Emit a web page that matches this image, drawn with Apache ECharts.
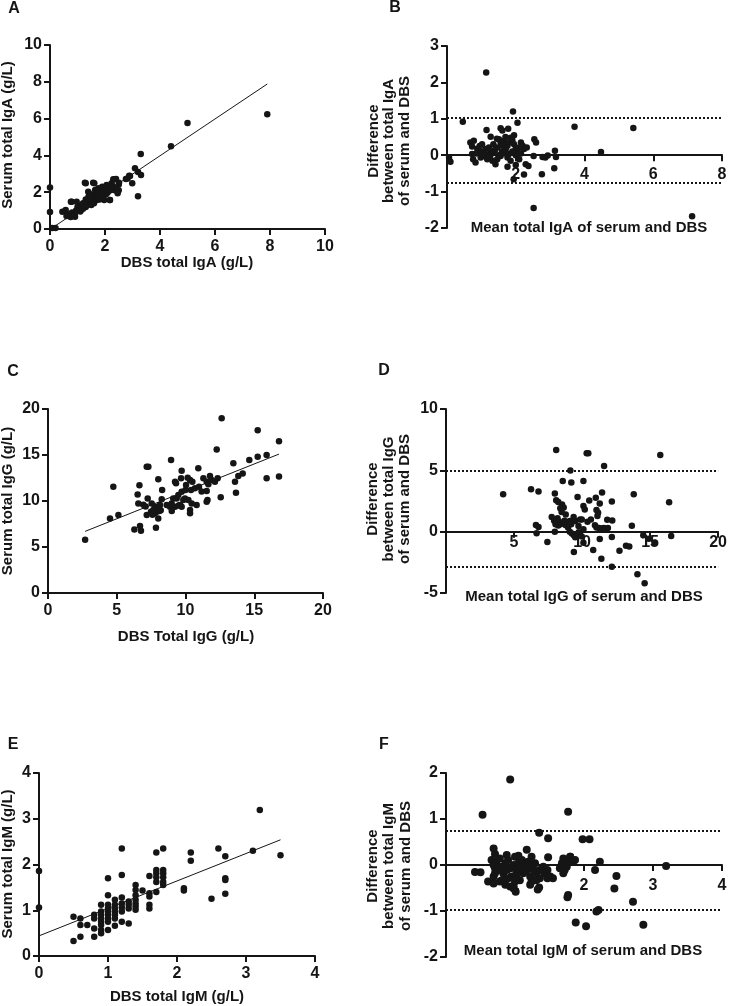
<!DOCTYPE html>
<html>
<head>
<meta charset="utf-8">
<script src="https://cdn.jsdelivr.net/npm/echarts@6/dist/echarts.min.js"></script>
<style>html,body{margin:0;padding:0;background:#fff}#c{width:730px;height:1006px}</style>
</head>
<body>
<div id="c"></div>
<script>
// ---------- DATA ----------
// A: DBS total IgA vs Serum total IgA (g/L)
const igaScatter = [
[0,2.25],[0,0.92],[0.08,0.05],[0.2,0.05],[7.9,6.23],[5.0,5.76],[4.4,4.5],[3.3,4.08],[3.2,1.78],[3.09,3.3],[3.2,3.1],[3.31,2.93],
[2.76,2.72],[2.88,2.9],[2.99,2.48],[2.3,2.7],[2.4,2.72],[2.5,2.42],[2.5,2.1],[2.36,2.1],[2.18,1.58],[1.27,2.52],[1.57,2.52],[0.76,1.48],
[0.45,0.94],[0.57,1.03],[0.67,0.76],[0.76,0.7],[0.85,0.81],[0.91,0.67],[0.79,1.48],[0.97,1.48],[1.03,1.12],[1.13,1.03],[1.15,1.3],
[1.25,1.21],[1.33,1.39],[1.3,2.48],[1.39,2.02],[1.45,1.66],[1.51,1.48],[1.58,1.85],[1.61,2.48],[1.64,2.12],[1.7,1.57],[1.73,1.94],
[1.76,2.21],[1.82,1.75],[1.85,2.03],[1.9,2.3],[1.94,1.94],[1.97,1.57],[2.02,2.21],[2.06,2.39],[2.12,2.12],[2.18,1.57],[2.24,2.48],
[2.3,2.3],[2.36,2.7],[2.42,2.12],[2.46,1.94],[2.51,2.52],[2.82,2.75],[2.91,2.88],
[1.05,1.0],[1.1,0.95],[1.15,1.2],[1.2,1.1],[1.25,1.35],[1.3,1.2],[1.35,1.3],[1.4,1.5],[1.45,1.4],[1.5,1.6],[1.5,1.3],[1.55,1.5],
[1.6,1.7],[1.6,1.4],[1.65,1.6],[1.7,1.75],[1.75,1.8],[1.8,1.6],[1.8,1.9],[1.85,1.75],[1.9,2.0],[1.95,1.8],[2.0,2.05],[2.05,1.9],
[2.1,2.0],[2.2,2.1],[2.25,2.3],[0.7,0.8],[0.8,0.9],[0.9,0.8],[0.95,1.0],[1.0,1.2],[0.6,0.7],[0.75,0.65],[0.85,0.7],[1.1,1.15],
[1.3,1.6],[1.4,1.75],[1.45,1.9],[1.2,1.4]
];
const igaFit = [[0,-0.02],[7.9,7.88]];

// B: Bland-Altman IgA (mean, difference)
const igaBA = [
[0.06,-0.07],[0.1,-0.18],[0.46,0.92],[1.14,2.27],[1.92,1.2],[2.05,0.89],[3.71,0.78],[5.42,0.75],[4.48,0.09],[7.13,-1.68],[2.52,-1.45],
[1.15,0.69],[1.27,0.51],[1.56,0.74],[1.61,0.68],[1.78,0.73],[0.68,0.35],[0.78,0.40],[0.73,0.24],[0.88,0.18],[1.02,0.30],[1.12,0.17],
[1.22,0.21],[1.27,0.12],[1.37,0.08],[1.46,0.21],[1.51,0.44],[1.56,0.35],[1.61,0.26],[1.66,0.39],[1.71,0.17],[1.76,0.26],[1.80,0.35],
[1.85,0.48],[1.90,0.41],[1.95,0.30],[2.00,0.17],[2.05,0.08],[2.10,0.21],[2.15,0.35],[2.20,0.26],[2.24,0.17],[2.32,0.21],[2.54,0.44],
[2.59,0.35],[0.73,0.03],[0.76,-0.11],[0.83,-0.20],[0.98,-0.06],[1.07,-0.02],[1.17,-0.11],[1.32,-0.15],[1.41,-0.25],[1.46,-0.11],
[1.56,-0.02],[1.76,-0.06],[1.80,0.03],[1.85,-0.15],[1.76,-0.32],[2.00,-0.27],[2.10,-0.11],[1.94,-0.66],[2.24,-0.53],[2.29,-0.25],
[2.37,-0.30],[2.52,-0.02],[2.76,-0.52],[2.78,-0.05],[2.86,-0.06],[2.93,-0.01],[3.14,0.12],[3.17,-0.05],[3.12,-0.36],
[1.0,0.1],[1.1,0.05],[1.2,0.0],[1.3,0.05],[1.4,0.15],[1.5,0.0],[1.6,0.1],[1.7,0.05],[1.9,0.1],[2.0,0.0],[2.15,0.05],[1.25,-0.05],
[1.35,0.3],[1.45,0.45],[1.7,0.5],[1.95,0.55],[0.95,0.25],[0.85,0.05]
];
const igaLimits = [1.02, -0.76];

// C: DBS total IgG vs Serum total IgG (g/L)
const iggScatter = [
[2.7,5.8],[4.51,8.11],[4.75,11.56],[5.12,8.47],[6.28,6.91],[6.69,7.28],[6.76,6.77],[7.85,7.1],[7.18,8.47],[6.57,9.72],[6.65,11.7],
[7.18,13.73],[7.3,13.73],[7.25,10.27],[8.02,12.36],[8.95,14.46],[12.63,18.99],[15.25,17.7],[16.8,16.5],[12.27,15.6],[15.9,15.0],
[15.25,14.8],[14.64,14.46],[13.48,14.1],[10.93,13.55],[9.72,13.28],[9.24,12.1],[10.16,12.53],[10.33,12.28],[10.5,12.1],[10.98,11.56],
[11.3,12.47],[11.54,12.1],[11.78,12.72],[11.9,12.28],[12.14,12.1],[12.34,12.47],[13.6,12.1],[13.84,12.72],[14.16,12.99],[15.9,12.47],
[16.8,12.65],[13.67,10.9],[12.56,10.4],[11.54,11.08],[11.66,11.81],[10.69,11.38],[10.4,11.2],[10.04,11.74],[9.68,12.47],[9.31,11.92],
[9.72,11.0],[7.54,9.74],[7.78,9.38],[7.66,9.02],[7.9,8.84],[8.02,9.2],[7.78,8.66],[7.49,8.84],[8.02,8.11],[8.14,9.56],[8.27,10.2],
[8.63,9.56],[8.87,9.38],[8.99,9.74],[9.11,10.28],[9.24,9.38],[9.36,10.28],[9.48,10.64],[9.6,9.56],[9.72,9.38],[9.84,10.1],[9.96,10.28],
[10.21,10.1],[10.33,9.02],[10.33,8.66],[10.45,9.74],[10.81,9.56],[11.17,11.02],[11.54,9.92],[6.93,9.6],[6.52,10.7],[7.1,9.4],[8.1,8.9],
[8.2,9.0],[7.6,8.5],[8.3,11.2],[9.0,8.9],[9.5,9.5],[11.6,10.1],[10.0,11.2]
];
const iggFit = [[2.7,6.7],[16.8,15.1]];

// D: Bland-Altman IgG
const iggBA = [
[4.2,3.05],[8.1,6.66],[10.34,6.39],[10.46,6.39],[15.75,6.25],[11.62,5.35],[9.14,4.99],[6.25,3.46],[6.8,3.27],[8.58,4.14],[9.21,4.0],
[10.1,4.14],[11.47,3.2],[13.8,3.06],[16.4,2.4],[8.0,3.12],[8.1,2.56],[8.25,2.42],[8.53,2.22],[8.65,1.96],[9.67,2.82],[10.1,2.1],
[10.53,2.55],[11.01,2.77],[11.3,2.3],[11.06,1.77],[11.18,1.55],[12.19,2.45],[7.77,1.2],[7.95,0.9],[8.1,0.7],[8.2,1.1],[8.3,0.8],
[8.4,0.6],[8.25,0.5],[8.15,1.0],[8.05,0.6],[8.78,0.55],[8.97,0.33],[9.09,0.87],[9.38,1.2],[9.5,0.87],[9.74,0.46],[9.86,1.0],[9.98,1.0],
[10.1,0.2],[10.65,1.0],[10.95,0.52],[11.06,0.33],[11.13,1.28],[11.25,0.3],[11.45,0.25],[11.6,0.3],[11.75,0.2],[11.9,0.3],[11.85,0.97],
[12.22,0.92],[13.66,0.49],[6.61,0.55],[6.8,0.38],[6.66,-0.13],[8.0,0.0],[7.45,-0.84],[9.1,0.0],[9.25,-0.15],[9.4,-0.3],[9.5,-0.45],
[9.75,-0.05],[9.98,-0.4],[10.1,-0.9],[9.4,-1.66],[10.82,-1.5],[11.3,-0.6],[11.42,-2.2],[12.19,-0.43],[12.19,-2.85],[12.75,-1.56],
[13.23,-1.15],[13.47,-1.2],[14.07,-3.48],[14.5,-0.3],[14.6,-4.21],[14.91,-0.57],[15.32,-0.9],[16.55,-0.35],
[8.8,1.4],[8.5,1.6],[8.4,1.9],[9.2,0.6],[10.2,1.8],[10.4,0.8],[8.7,0.9]
];
const iggLimits = [5.0, -2.9];

// E: DBS total IgM vs Serum total IgM (g/L)
const igmScatter = [
[0,1.86],[0,1.06],[0.5,0.86],[0.5,0.33],[0.6,0.82],[0.6,0.68],[0.6,0.42],[0.7,0.68],[0.8,0.9],[0.8,0.82],[0.8,0.6],[0.8,0.42],
[0.9,1.12],[0.9,0.97],[0.9,0.9],[0.9,0.82],[0.9,0.75],[0.9,0.68],[0.9,0.57],[0.9,0.5],
[1.0,1.7],[1.0,1.33],[1.0,1.12],[1.0,1.04],[1.0,0.97],[1.0,0.9],[1.0,0.82],[1.0,0.75],[1.0,0.57],
[1.1,1.23],[1.1,1.12],[1.1,1.04],[1.1,0.97],[1.1,0.9],[1.1,0.82],[1.1,0.66],
[1.2,2.35],[1.2,1.77],[1.2,1.28],[1.2,1.15],[1.2,1.06],[1.2,0.97],[1.2,0.75],
[1.3,1.19],[1.3,1.12],[1.3,1.04],[1.3,0.71],
[1.4,1.55],[1.4,1.44],[1.4,1.33],[1.4,1.23],[1.4,1.15],[1.4,1.08],[1.4,1.01],[1.5,1.43],
[1.6,1.75],[1.6,1.37],[1.6,1.3],[1.6,1.12],[1.6,1.04],
[1.7,2.26],[1.7,1.88],[1.7,1.81],[1.7,1.72],[1.7,1.62],[1.7,1.4],
[1.8,2.35],[1.8,1.88],[1.8,1.81],[1.8,1.72],[1.8,1.62],[1.8,1.55],
[2.1,1.48],[2.1,1.43],[2.2,2.26],[2.2,2.08],[2.5,1.25],[2.6,2.35],[2.7,2.18],[2.7,1.7],[2.7,1.66],[2.7,1.36],[3.1,2.3],[3.2,3.19],[3.5,2.2]
];
const igmFit = [[0,0.44],[3.5,2.54]];

// F: Bland-Altman IgM
const igmBA = [
[0.93,1.86],[0.53,1.09],[1.77,1.16],[1.35,0.70],[1.48,0.58],[1.98,0.56],[2.08,0.56],[0.42,-0.15],[0.5,-0.16],[0.69,0.36],[0.71,0.24],
[0.61,-0.36],[0.69,-0.40],[2.23,0.07],[2.16,-0.11],[2.47,-0.24],[2.44,-0.51],[2.71,-0.80],[2.18,-1.01],[2.21,-0.98],[1.88,-1.25],
[2.03,-1.33],[1.77,-0.65],[1.76,-0.70],[1.35,-0.49],[1.33,-0.53],[1.01,-0.58],[1.48,0.17],[1.17,0.33],[3.19,-0.02],[2.86,-1.3],
[1.05,0.2],[0.88,0.22],[1.24,0.18],[1.8,0.18],[1.7,0.14],
[0.66,0.11],[0.69,0.0],[0.71,-0.07],[0.73,0.07],[0.76,-0.11],[0.78,0.14],[0.81,-0.04],[0.83,-0.18],[0.86,0.04],[0.88,-0.11],
[0.90,0.11],[0.93,-0.07],[0.95,-0.25],[0.98,0.0],[1.0,0.18],[1.02,-0.14],[1.05,0.04],[1.07,-0.07],[1.10,0.11],[1.12,-0.18],
[1.14,0.0],[1.17,-0.11],[1.19,0.07],[1.22,-0.25],[1.24,-0.04],[1.27,-0.11],[1.29,0.04],[1.31,-0.18],[1.36,-0.11],[1.41,-0.04],
[1.43,-0.18],[1.47,-0.11],[1.51,-0.25],[1.55,-0.29],[1.65,-0.07],[1.68,0.04],[1.70,-0.18],[1.72,-0.11],[1.75,-0.04],[1.77,0.11],
[1.80,0.18],[1.84,0.07],[1.87,0.11],[0.69,-0.25],[0.78,-0.36],[0.86,-0.43],[0.93,-0.47],[0.98,-0.51],[1.07,-0.33],[0.81,-0.33],
[0.90,-0.29],[1.22,-0.43],[1.24,-0.36],[1.31,-0.33],[1.36,-0.29],[1.47,-0.29],[0.71,-0.18],[1.0,-0.36],[0.98,-0.47],[1.02,-0.25]
];
const igmLimits = [0.74, -0.98];

// Axis settings (min, max, interval)
const axesSpec = [
  {x:[0,10,2], y:[0,10,2]},
  {x:[0,8,2],  y:[-2,3,1]},
  {x:[0,20,5], y:[0,20,5]},
  {x:[0,20,5], y:[-5,10,5]},
  {x:[0,4,1],  y:[0,4,1]},
  {x:[0,4,1],  y:[-2,2,1]}
];

// ---------- CHART ----------
const FONT = '"Liberation Sans", Arial, sans-serif';
const INK = '#151515';
const grids = [
  {left:50,  top:45,  width:275, height:184},
  {left:447, top:46,  width:275, height:182},
  {left:48,  top:409, width:275, height:184},
  {left:446, top:409, width:277, height:184},
  {left:39,  top:773, width:276, height:183},
  {left:446, top:773, width:276, height:184}
];
const isBA = [false,true,false,true,false,true];
// BA panels carry their tick labels just below the zero line
const xLabelMargin = [10, -61, 10, -58, 10, -79];

const xAxes = axesSpec.map((s,i)=>({
  type:'value', gridIndex:i, min:s.x[0], max:s.x[1], interval:s.x[2],
  axisLine:{show:true, onZero:isBA[i], lineStyle:{color:INK, width:2}},
  axisTick:{show:true, length:6, lineStyle:{color:INK, width:2}},
  axisLabel:{color:INK, fontSize:16, fontWeight:'bold', fontFamily:FONT, margin:xLabelMargin[i], showMinLabel:!isBA[i]},
  splitLine:{show:false}, z:1
}));
const yAxes = axesSpec.map((s,i)=>({
  type:'value', gridIndex:i, min:s.y[0], max:s.y[1], interval:s.y[2],
  axisLine:{show:true, onZero:false, lineStyle:{color:INK, width:2}},
  axisTick:{show:true, length:6, lineStyle:{color:INK, width:2}},
  axisLabel:{color:INK, fontSize:16, fontWeight:'bold', fontFamily:FONT, margin:8},
  splitLine:{show:false}, z:1
}));

function scatter(i, data, size){
  return {type:'scatter', xAxisIndex:i, yAxisIndex:i, data:data, symbolSize:size,
    itemStyle:{color:INK, opacity:1}, z:5, silent:true};
}
function fit(i, data){
  return {type:'line', xAxisIndex:i, yAxisIndex:i, data:data, symbol:'none',
    lineStyle:{color:INK, width:1}, z:4, silent:true};
}
function limits(i, vals){
  return {type:'line', xAxisIndex:i, yAxisIndex:i, data:[], silent:true,
    markLine:{silent:true, symbol:'none', label:{show:false},
      lineStyle:{color:INK, width:2, type:[2,2]},
      data: vals.map(v=>({yAxis:v}))}};
}
const series = [
  scatter(0, igaScatter, 6.5), fit(0, igaFit),
  scatter(1, igaBA, 6.5), limits(1, igaLimits),
  scatter(2, iggScatter, 6.5), fit(2, iggFit),
  scatter(3, iggBA, 6.5), limits(3, iggLimits),
  scatter(4, igmScatter, 6.5), fit(4, igmFit),
  scatter(5, igmBA, 8), limits(5, igmLimits)
];
function txt(t, x, y, size, rot){
  return {type:'text', x:x, y:y, rotation:rot?Math.PI/2:0, silent:true,
    style:{text:t, font:'bold '+size+'px '+FONT, fill:INK, textAlign:'center', textVerticalAlign:'middle'}};
}
const graphics = [
  txt('A',14,9,16), txt('B',395,8,16), txt('C',13,372,16), txt('D',384,371,16), txt('E',13,745,16), txt('F',384,745,16),
  txt('Serum total IgA (g/L)',8,135,15,true),
  txt('Serum total IgG (g/L)',8,501,15,true),
  txt('Serum total IgM (g/L)',8,864,15,true),
  txt('DBS total IgA (g/L)',187,263,15),
  txt('DBS Total IgG (g/L)',186,637,15),
  txt('DBS total IgM (g/L)',177,997,15),
  txt('Mean total IgA of serum and DBS',589,228,15),
  txt('Mean total IgG of serum and DBS',584,597,15),
  txt('Mean total IgM of serum and DBS',583,951,15),
  txt('Difference',374,141,15,true), txt('between total IgA',389,141,15,true), txt('of serum and DBS',405,141,15,true),
  txt('Difference',373,499,15,true), txt('between total IgG',389,499,15,true), txt('of serum and DBS',405,499,15,true),
  txt('Difference',373,866,15,true), txt('between total IgM',389,866,15,true), txt('of serum and DBS',406,866,15,true)
];
const chart = echarts.init(document.getElementById('c'), null, {renderer:'canvas'});
chart.setOption({
  animation:false, backgroundColor:'#fff', textStyle:{fontFamily:FONT},
  grid:grids, xAxis:xAxes, yAxis:yAxes, series:series, graphic:graphics
});
</script>
</body>
</html>
